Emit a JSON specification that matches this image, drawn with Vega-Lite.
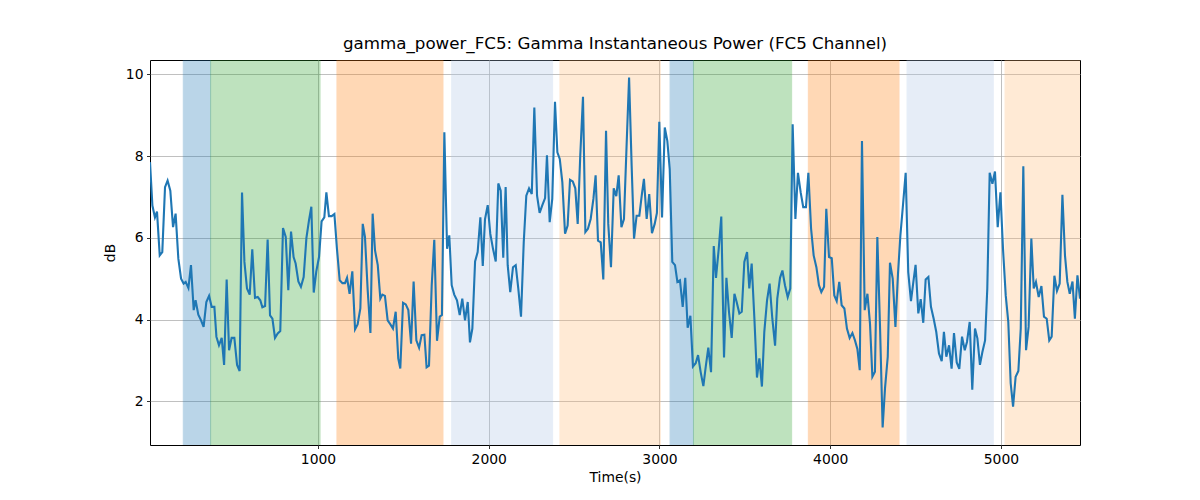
{
  "$schema": "https://vega.github.io/schema/vega-lite/v6.json",
  "width": 930,
  "height": 385,
  "autosize": {"type": "none"},
  "padding": {"left": 150, "top": 60, "right": 120, "bottom": 55},
  "background": "white",
  "title": {"text": "gamma_power_FC5: Gamma Instantaneous Power (FC5 Channel)", "font": "DejaVu Sans", "fontSize": 16.7, "fontWeight": "normal", "color": "black", "anchor": "middle", "offset": 7},
  "config": {
    "view": {"stroke": "black", "strokeWidth": 1},
    "axis": {
      "domain": false,
      "tickColor": "black", "tickSize": 3.5, "tickWidth": 0.8,
      "labelFont": "DejaVu Sans", "labelFontSize": 13.9, "labelColor": "black", "labelPadding": 3.5,
      "grid": true, "gridColor": "#b0b0b0", "gridWidth": 0.8, "gridOpacity": 1,
      "titleFont": "DejaVu Sans", "titleFontSize": 13.9, "titleFontWeight": "normal", "titleColor": "black"
    }
  },
  "datasets": {
    "spans": [
      {"s": 211, "e": 371, "kind": "blue"},
      {"s": 371, "e": 1012, "kind": "green"},
      {"s": 1111, "e": 1732, "kind": "orange"},
      {"s": 1783, "e": 2374, "kind": "lightblue"},
      {"s": 2417, "e": 3005, "kind": "lightorange"},
      {"s": 3062, "e": 3199, "kind": "blue"},
      {"s": 3199, "e": 3774, "kind": "green"},
      {"s": 3872, "e": 4403, "kind": "orange"},
      {"s": 4450, "e": 4955, "kind": "lightblue"},
      {"s": 5024, "e": 5500, "kind": "lightorange"}
    ],
    "sig": [
      {"t":16,"v":7.85},{"t":30,"v":6.79},{"t":45,"v":6.5},{"t":57,"v":6.64},{"t":73,"v":5.57},{"t":88,"v":5.65},{"t":104,"v":7.24},{"t":119,"v":7.4},{"t":135,"v":7.15},{"t":151,"v":6.26},{"t":166,"v":6.59},{"t":182,"v":5.49},{"t":198,"v":5.0},{"t":213,"v":4.88},{"t":225,"v":4.92},{"t":241,"v":4.77},{"t":256,"v":5.33},{"t":272,"v":4.23},{"t":283,"v":4.47},{"t":299,"v":4.12},{"t":315,"v":3.98},{"t":330,"v":3.82},{"t":346,"v":4.43},{"t":362,"v":4.58},{"t":377,"v":4.31},{"t":393,"v":4.31},{"t":405,"v":3.58},{"t":420,"v":3.37},{"t":436,"v":3.55},{"t":450,"v":2.89},{"t":465,"v":4.98},{"t":479,"v":3.25},{"t":494,"v":3.55},{"t":510,"v":3.55},{"t":526,"v":2.89},{"t":541,"v":2.74},{"t":555,"v":7.11},{"t":569,"v":5.41},{"t":584,"v":4.76},{"t":600,"v":4.61},{"t":615,"v":5.72},{"t":631,"v":4.53},{"t":647,"v":4.55},{"t":662,"v":4.47},{"t":674,"v":4.3},{"t":690,"v":4.33},{"t":705,"v":5.96},{"t":719,"v":4.1},{"t":733,"v":4.02},{"t":748,"v":3.55},{"t":764,"v":3.66},{"t":779,"v":3.72},{"t":795,"v":6.24},{"t":811,"v":6.02},{"t":826,"v":4.72},{"t":842,"v":6.15},{"t":857,"v":5.53},{"t":869,"v":5.37},{"t":885,"v":4.93},{"t":900,"v":4.8},{"t":916,"v":5.04},{"t":932,"v":5.99},{"t":947,"v":6.42},{"t":961,"v":6.76},{"t":975,"v":4.66},{"t":990,"v":5.18},{"t":1006,"v":5.53},{"t":1021,"v":6.4},{"t":1037,"v":6.5},{"t":1049,"v":7.11},{"t":1064,"v":6.53},{"t":1080,"v":6.53},{"t":1096,"v":6.58},{"t":1111,"v":5.73},{"t":1127,"v":4.96},{"t":1143,"v":4.89},{"t":1158,"v":4.89},{"t":1170,"v":5.02},{"t":1185,"v":4.63},{"t":1201,"v":5.18},{"t":1217,"v":3.76},{"t":1232,"v":3.88},{"t":1248,"v":4.27},{"t":1262,"v":6.34},{"t":1275,"v":6.02},{"t":1291,"v":4.72},{"t":1307,"v":3.67},{"t":1320,"v":6.59},{"t":1334,"v":5.69},{"t":1350,"v":5.33},{"t":1365,"v":4.51},{"t":1377,"v":4.61},{"t":1392,"v":4.58},{"t":1408,"v":3.98},{"t":1424,"v":3.88},{"t":1439,"v":3.78},{"t":1455,"v":4.19},{"t":1470,"v":3.05},{"t":1482,"v":2.8},{"t":1498,"v":4.41},{"t":1514,"v":4.37},{"t":1529,"v":4.23},{"t":1545,"v":3.41},{"t":1560,"v":4.93},{"t":1576,"v":3.49},{"t":1592,"v":3.31},{"t":1607,"v":3.62},{"t":1623,"v":3.63},{"t":1636,"v":2.83},{"t":1650,"v":2.87},{"t":1666,"v":4.84},{"t":1681,"v":5.95},{"t":1697,"v":3.48},{"t":1713,"v":4.07},{"t":1726,"v":4.11},{"t":1740,"v":8.58},{"t":1756,"v":5.73},{"t":1769,"v":6.06},{"t":1783,"v":4.84},{"t":1798,"v":4.61},{"t":1814,"v":4.47},{"t":1830,"v":4.11},{"t":1845,"v":4.51},{"t":1861,"v":3.98},{"t":1877,"v":4.43},{"t":1890,"v":3.44},{"t":1904,"v":3.78},{"t":1920,"v":5.42},{"t":1935,"v":5.65},{"t":1951,"v":6.5},{"t":1965,"v":5.31},{"t":1978,"v":6.45},{"t":1994,"v":6.8},{"t":2009,"v":6.1},{"t":2025,"v":5.73},{"t":2041,"v":5.42},{"t":2056,"v":7.33},{"t":2070,"v":7.15},{"t":2085,"v":5.51},{"t":2099,"v":7.24},{"t":2111,"v":5.33},{"t":2126,"v":4.67},{"t":2142,"v":5.28},{"t":2158,"v":5.33},{"t":2173,"v":4.76},{"t":2189,"v":4.07},{"t":2205,"v":5.89},{"t":2220,"v":7.03},{"t":2236,"v":7.21},{"t":2252,"v":7.07},{"t":2267,"v":9.19},{"t":2283,"v":7.03},{"t":2298,"v":6.61},{"t":2314,"v":6.8},{"t":2330,"v":6.97},{"t":2341,"v":8.02},{"t":2357,"v":6.38},{"t":2372,"v":6.95},{"t":2388,"v":9.33},{"t":2402,"v":8.09},{"t":2416,"v":7.93},{"t":2431,"v":7.36},{"t":2447,"v":6.1},{"t":2462,"v":6.3},{"t":2476,"v":7.42},{"t":2492,"v":7.38},{"t":2507,"v":7.21},{"t":2521,"v":6.34},{"t":2536,"v":8.01},{"t":2552,"v":9.45},{"t":2566,"v":6.14},{"t":2581,"v":6.22},{"t":2597,"v":6.46},{"t":2613,"v":6.95},{"t":2626,"v":7.53},{"t":2640,"v":5.93},{"t":2656,"v":5.89},{"t":2671,"v":4.98},{"t":2687,"v":8.62},{"t":2700,"v":6.34},{"t":2716,"v":5.28},{"t":2732,"v":7.21},{"t":2747,"v":7.02},{"t":2761,"v":7.53},{"t":2777,"v":6.26},{"t":2792,"v":6.46},{"t":2808,"v":8.33},{"t":2822,"v":9.92},{"t":2837,"v":7.76},{"t":2851,"v":5.98},{"t":2866,"v":6.54},{"t":2882,"v":6.54},{"t":2896,"v":7.03},{"t":2909,"v":7.44},{"t":2925,"v":6.46},{"t":2940,"v":7.07},{"t":2956,"v":6.11},{"t":2972,"v":6.34},{"t":2985,"v":6.61},{"t":2999,"v":8.84},{"t":3015,"v":6.5},{"t":3031,"v":8.7},{"t":3046,"v":8.37},{"t":3060,"v":7.68},{"t":3075,"v":5.41},{"t":3091,"v":5.33},{"t":3105,"v":4.92},{"t":3120,"v":4.96},{"t":3136,"v":4.31},{"t":3151,"v":5.02},{"t":3165,"v":3.8},{"t":3181,"v":4.09},{"t":3196,"v":2.85},{"t":3212,"v":2.93},{"t":3226,"v":3.13},{"t":3241,"v":2.72},{"t":3257,"v":2.37},{"t":3271,"v":2.85},{"t":3286,"v":3.31},{"t":3302,"v":2.71},{"t":3318,"v":5.8},{"t":3331,"v":5.02},{"t":3347,"v":5.73},{"t":3362,"v":6.52},{"t":3378,"v":3.07},{"t":3392,"v":5.02},{"t":3407,"v":4.19},{"t":3423,"v":3.55},{"t":3439,"v":4.63},{"t":3452,"v":4.43},{"t":3468,"v":4.15},{"t":3482,"v":4.19},{"t":3497,"v":5.41},{"t":3513,"v":5.65},{"t":3526,"v":4.76},{"t":3540,"v":5.37},{"t":3556,"v":4.02},{"t":3571,"v":2.58},{"t":3585,"v":3.05},{"t":3600,"v":2.36},{"t":3614,"v":3.7},{"t":3630,"v":4.47},{"t":3645,"v":4.88},{"t":3661,"v":4.02},{"t":3677,"v":3.36},{"t":3690,"v":4.51},{"t":3706,"v":5.02},{"t":3720,"v":5.2},{"t":3735,"v":4.84},{"t":3751,"v":4.55},{"t":3766,"v":4.76},{"t":3780,"v":8.78},{"t":3796,"v":6.46},{"t":3811,"v":7.59},{"t":3827,"v":7.11},{"t":3842,"v":6.75},{"t":3858,"v":6.75},{"t":3872,"v":7.59},{"t":3888,"v":6.22},{"t":3903,"v":5.57},{"t":3919,"v":5.28},{"t":3934,"v":4.84},{"t":3948,"v":4.67},{"t":3964,"v":4.8},{"t":3977,"v":6.71},{"t":3993,"v":5.53},{"t":4009,"v":5.5},{"t":4024,"v":4.59},{"t":4038,"v":4.45},{"t":4053,"v":4.92},{"t":4067,"v":4.35},{"t":4083,"v":4.27},{"t":4098,"v":3.78},{"t":4114,"v":3.55},{"t":4130,"v":3.67},{"t":4145,"v":3.49},{"t":4159,"v":3.28},{"t":4173,"v":2.76},{"t":4186,"v":8.37},{"t":4202,"v":4.23},{"t":4218,"v":4.63},{"t":4233,"v":3.9},{"t":4247,"v":2.6},{"t":4262,"v":2.72},{"t":4276,"v":6.02},{"t":4292,"v":3.78},{"t":4307,"v":1.36},{"t":4321,"v":2.32},{"t":4337,"v":3.09},{"t":4350,"v":5.39},{"t":4366,"v":5.0},{"t":4382,"v":3.82},{"t":4397,"v":5.12},{"t":4411,"v":6.06},{"t":4426,"v":6.79},{"t":4442,"v":7.59},{"t":4457,"v":5.16},{"t":4473,"v":4.45},{"t":4487,"v":4.92},{"t":4500,"v":5.34},{"t":4516,"v":4.15},{"t":4530,"v":4.5},{"t":4545,"v":3.92},{"t":4559,"v":4.98},{"t":4575,"v":5.04},{"t":4590,"v":4.31},{"t":4606,"v":4.02},{"t":4621,"v":3.7},{"t":4637,"v":3.17},{"t":4653,"v":2.98},{"t":4666,"v":3.7},{"t":4680,"v":3.09},{"t":4696,"v":3.37},{"t":4711,"v":2.8},{"t":4725,"v":3.67},{"t":4741,"v":2.95},{"t":4756,"v":2.79},{"t":4772,"v":3.58},{"t":4788,"v":3.25},{"t":4801,"v":3.45},{"t":4817,"v":3.94},{"t":4832,"v":2.28},{"t":4848,"v":3.78},{"t":4862,"v":3.54},{"t":4877,"v":2.89},{"t":4891,"v":3.2},{"t":4907,"v":3.49},{"t":4920,"v":4.76},{"t":4934,"v":7.59},{"t":4950,"v":7.32},{"t":4965,"v":7.62},{"t":4981,"v":6.26},{"t":4997,"v":7.11},{"t":5012,"v":5.73},{"t":5028,"v":4.59},{"t":5043,"v":3.94},{"t":5057,"v":2.44},{"t":5071,"v":1.87},{"t":5086,"v":2.6},{"t":5102,"v":2.74},{"t":5116,"v":3.78},{"t":5131,"v":7.75},{"t":5147,"v":3.25},{"t":5162,"v":3.82},{"t":5178,"v":5.98},{"t":5192,"v":4.76},{"t":5205,"v":4.92},{"t":5221,"v":4.55},{"t":5237,"v":4.82},{"t":5252,"v":4.07},{"t":5268,"v":4.02},{"t":5283,"v":3.49},{"t":5297,"v":3.58},{"t":5313,"v":5.07},{"t":5328,"v":4.7},{"t":5344,"v":4.88},{"t":5360,"v":7.05},{"t":5375,"v":5.57},{"t":5389,"v":4.92},{"t":5403,"v":4.63},{"t":5419,"v":4.93},{"t":5433,"v":4.02},{"t":5448,"v":5.08},{"t":5463,"v":4.51}
    ]
  },
  "layer": [
    {
      "data": {"name": "spans"},
      "mark": {"type": "rect", "opacity": 0.3, "strokeWidth": 1, "clip": true},
      "encoding": {
        "x": {"field": "s", "type": "quantitative", "scale": {"domain": [16, 5463], "nice": false, "zero": false},
              "axis": {"title": "Time(s)", "values": [1000, 2000, 3000, 4000, 5000], "format": "d", "titlePadding": 5}},
        "x2": {"field": "e"},
        "color": {"field": "kind", "type": "nominal", "legend": null,
                  "scale": {"domain": ["blue", "green", "orange", "lightblue", "lightorange"], "range": ["#1f77b4", "#2ca02c", "#ff7f0e", "#aec7e8", "#ffbb78"]}},
        "stroke": {"field": "kind", "type": "nominal", "legend": null,
                  "scale": {"domain": ["blue", "green", "orange", "lightblue", "lightorange"], "range": ["#1f77b4", "#2ca02c", "#ff7f0e", "#aec7e8", "#ffbb78"]}}
      }
    },
    {
      "data": {"name": "sig"},
      "mark": {"type": "line", "color": "#1f77b4", "strokeWidth": 2.1, "clip": true},
      "encoding": {
        "x": {"field": "t", "type": "quantitative"},
        "y": {"field": "v", "type": "quantitative", "scale": {"domain": [0.93, 10.35], "nice": false, "zero": false},
              "axis": {"title": "dB", "values": [2, 4, 6, 8, 10], "format": "d", "titlePadding": 8}}
      }
    }
  ]
}
